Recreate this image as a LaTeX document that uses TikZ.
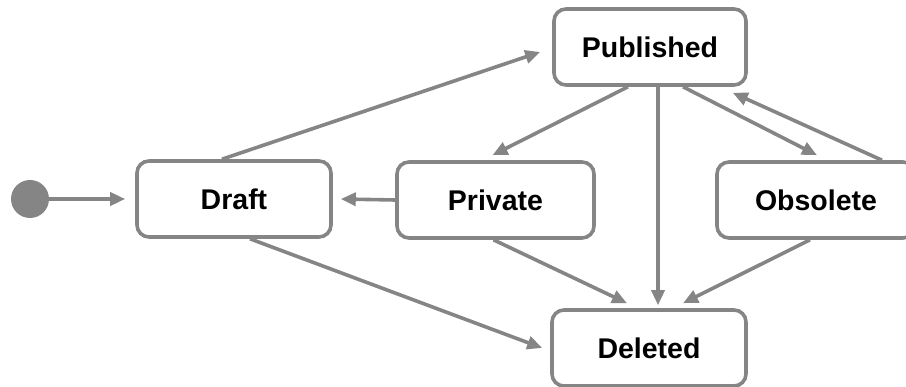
\documentclass[tikz,border=0pt]{standalone}
\usepackage{fontspec}
\setmainfont{Liberation Sans}
\usetikzlibrary{arrows.meta}
\definecolor{edgegray}{HTML}{858585}
\tikzset{
  state/.style={draw=edgegray, line width=3.6pt, rounded corners=12pt, fill=white,
    minimum width=#1, minimum height=76pt, inner sep=0pt,
    font=\fontsize{28.5}{31}\selectfont\bfseries},
  state/.default=193pt,
  trans/.style={draw=edgegray, line width=3.6pt, -{Triangle[length=15pt,width=13pt]}},
}
\begin{document}
\begin{tikzpicture}[x=1pt,y=-1pt]
\useasboundingbox (0,0) rectangle (906,387);
\clip (0,0) rectangle (906,387);
\node[circle, fill=edgegray, minimum size=38pt, inner sep=0pt] (init) at (30,199) {};
\node[state=194pt] (draft) at (234,199) {Draft};
\node[state=197pt] (priv) at (495.5,200) {Private};
\node[state=192pt] (pub) at (650,47) {Published};
\node[state=198pt] (obs) at (816,200) {Obsolete};
\node[state=194pt] (del) at (649,348) {Deleted};
\draw[trans] (init.east) -- ([xshift=-10pt]draft.west);
\draw[trans] ([xshift=-12pt]draft.north) -- ([xshift=-12pt,yshift=-5pt]pub.west);
\draw[trans] (priv.west) -- ([xshift=8pt]draft.east);
\draw[trans] ([xshift=-22pt]pub.south) -- ([xshift=-3pt,yshift=5pt]priv.north);
\draw[trans] ([xshift=8pt]pub.south) -- ([xshift=9pt,yshift=3pt]del.north);
\draw[trans] ([xshift=33pt]pub.south) -- ([xshift=1pt,yshift=5pt]obs.north);
\draw[trans] ([xshift=66pt]obs.north) -- ([xshift=-15pt,yshift=-6pt]pub.south east);
\draw[trans] ([xshift=-2pt]priv.south) -- ([xshift=-22pt,yshift=5pt]del.north);
\draw[trans] ([xshift=-6pt]obs.south) -- ([xshift=34pt,yshift=5pt]del.north);
\draw[trans] ([xshift=16pt]draft.south) -- ([xshift=-8pt]del.west);
\end{tikzpicture}
\end{document}
